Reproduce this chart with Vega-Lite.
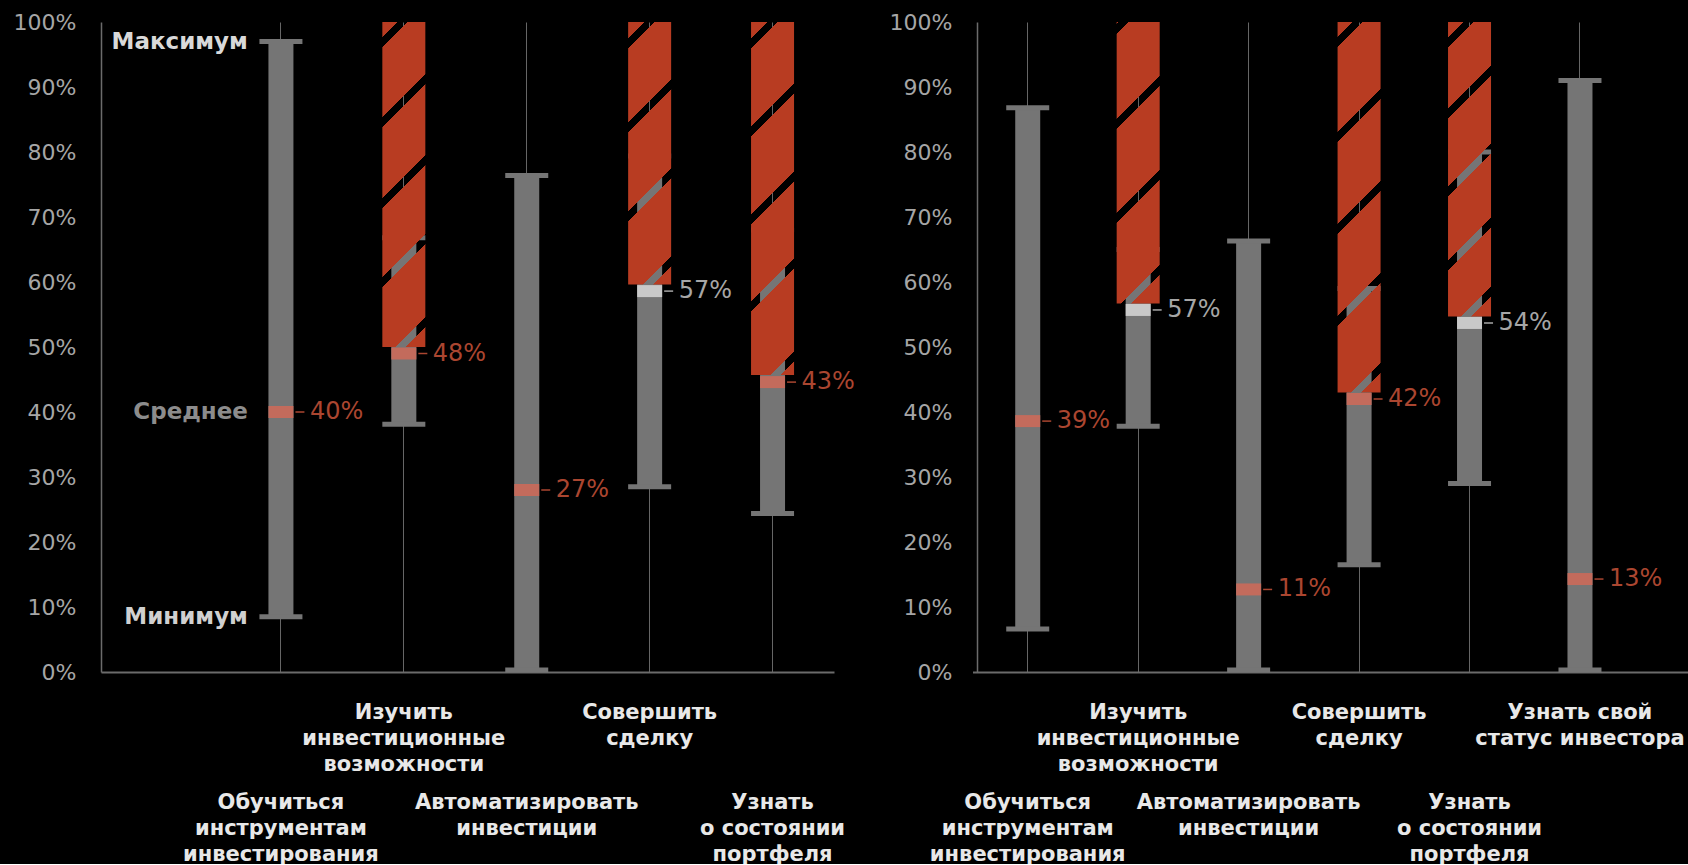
{
  "$schema": "https://vega.github.io/schema/vega-lite/v6.json",
  "background": "#000000",
  "padding": {"left": 13, "top": 11, "right": 0, "bottom": 0},
  "bounds": "flush",
  "spacing": 143,
  "config": {
    "view": {"stroke": null},
    "font": "DejaVu Sans",
    "axisY": {"grid": false, "ticks": false, "tickSize": 0, "domainColor": "#6b6b6b", "domainWidth": 1.5, "labelColor": "#a6a6a6", "labelFontSize": 22, "labelPadding": 25, "title": null, "labelFontWeight": "normal"},
    "axisX": {"grid": true, "gridColor": "#666666", "gridWidth": 1, "ticks": false, "tickSize": 0, "domainColor": "#6b6b6b", "domainWidth": 2, "labelAngle": 0, "labelColor": "#e8e8e8", "labelFontSize": 21, "labelFontWeight": "bold", "labelLineHeight": 26, "labelBaseline": "top", "labelAlign": "center", "labelOverlap": false, "labelLimit": 0, "labelBound": false, "title": null, "bandPosition": 0.5}
  },
  "datasets": {
    "left": [
      {"cat": "Обучиться|инструментам|инвестирования", "min": 0.085, "max": 0.97, "mean": 0.40, "label": 0.40, "red": null, "highlight": true},
      {"cat": "Изучить|инвестиционные|возможности", "min": 0.381, "max": 0.668, "mean": 0.49, "label": 0.48, "red": 0.50, "highlight": true},
      {"cat": "Автоматизировать|инвестиции", "min": 0.003, "max": 0.764, "mean": 0.28, "label": 0.27, "red": null, "highlight": true},
      {"cat": "Совершить|сделку", "min": 0.285, "max": 0.794, "mean": 0.586, "label": 0.57, "red": 0.596, "highlight": false},
      {"cat": "Узнать|о состоянии|портфеля", "min": 0.244, "max": 0.68, "mean": 0.446, "label": 0.43, "red": 0.457, "highlight": true}
    ],
    "right": [
      {"cat": "Обучиться|инструментам|инвестирования", "min": 0.066, "max": 0.868, "mean": 0.386, "label": 0.39, "red": null, "highlight": true},
      {"cat": "Изучить|инвестиционные|возможности", "min": 0.378, "max": 0.65, "mean": 0.557, "label": 0.57, "red": 0.567, "highlight": false},
      {"cat": "Автоматизировать|инвестиции", "min": 0.003, "max": 0.663, "mean": 0.127, "label": 0.11, "red": null, "highlight": true},
      {"cat": "Совершить|сделку", "min": 0.165, "max": 0.59, "mean": 0.42, "label": 0.42, "red": 0.43, "highlight": true},
      {"cat": "Узнать|о состоянии|портфеля", "min": 0.29, "max": 0.80, "mean": 0.537, "label": 0.54, "red": 0.547, "highlight": false},
      {"cat": "Узнать свой|статус инвестора", "min": 0.003, "max": 0.91, "mean": 0.143, "label": 0.13, "red": null, "highlight": true}
    ]
  },
  "hconcat": [
    {
      "width": 733,
      "height": 650,
      "data": {"name": "left"},
      "encoding": {
        "x": {
          "field": "cat", "type": "nominal", "sort": null,
          "scale": {"paddingInner": 0, "paddingOuter": 0.482, "align": 1},
          "axis": {
            "labelExpr": "split(datum.label, '|')",
            "labelPadding": {"condition": {"test": "indexof(['Изучить|инвестиционные|возможности', 'Совершить|сделку', 'Узнать свой|статус инвестора'], datum.value) >= 0", "value": 29}, "value": 119}
          }
        }
      },
      "layer": [
        {
          "mark": {"type": "bar", "size": 25, "color": "#757575"},
          "encoding": {
            "y": {"field": "min", "type": "quantitative", "scale": {"domain": [0, 1], "nice": false}, "axis": {"values": [0, 0.1, 0.2, 0.3, 0.4, 0.5, 0.6, 0.7, 0.8, 0.9, 1], "format": ".0%", "title": null}},
            "y2": {"field": "max"}
          }
        },
        {
          "mark": {"type": "tick", "size": 43, "thickness": 5, "color": "#757575", "opacity": 1},
          "encoding": {"y": {"field": "min", "type": "quantitative", "axis": {"title": null}}}
        },
        {
          "mark": {"type": "tick", "size": 43, "thickness": 5, "color": "#757575", "opacity": 1},
          "encoding": {"y": {"field": "max", "type": "quantitative", "axis": {"title": null}}}
        },
        {
          "transform": [{"filter": "isValid(datum.red)"}],
          "mark": {"type": "bar", "size": 43},
          "encoding": {
            "y": {"field": "red", "type": "quantitative", "axis": {"title": null}},
            "y2": {"datum": 1},
            "fill": {
              "condition": [
                {"test": "datum.cat === 'Изучить|инвестиционные|возможности'", "value": {"gradient": "linear", "x1": 0, "y1": 0, "x2": 0.1472, "y2": 1.1128, "stops": [
                  {"offset": 0, "color": "#b83c22"}, {"offset": 0.0408, "color": "#b83c22"}, {"offset": 0.0408, "color": "rgba(0,0,0,0)"}, {"offset": 0.0679, "color": "rgba(0,0,0,0)"}, {"offset": 0.0679, "color": "#b83c22"},
                  {"offset": 0.2595, "color": "#b83c22"}, {"offset": 0.2595, "color": "rgba(0,0,0,0)"}, {"offset": 0.2867, "color": "rgba(0,0,0,0)"}, {"offset": 0.2867, "color": "#b83c22"},
                  {"offset": 0.4783, "color": "#b83c22"}, {"offset": 0.4783, "color": "rgba(0,0,0,0)"}, {"offset": 0.5054, "color": "rgba(0,0,0,0)"}, {"offset": 0.5054, "color": "#b83c22"},
                  {"offset": 0.6929, "color": "#b83c22"}, {"offset": 0.6929, "color": "rgba(0,0,0,0)"}, {"offset": 0.7201, "color": "rgba(0,0,0,0)"}, {"offset": 0.7201, "color": "#b83c22"},
                  {"offset": 0.9185, "color": "#b83c22"}, {"offset": 0.9185, "color": "rgba(0,0,0,0)"}, {"offset": 0.9457, "color": "rgba(0,0,0,0)"}, {"offset": 0.9457, "color": "#b83c22"}, {"offset": 1, "color": "#b83c22"}]}},
                {"test": "datum.cat === 'Совершить|сделку'", "value": {"gradient": "linear", "x1": 0, "y1": 0, "x2": 0.1856, "y2": 1.1334, "stops": [
                  {"offset": 0, "color": "#b83c22"}, {"offset": 0.0524, "color": "#b83c22"}, {"offset": 0.0524, "color": "rgba(0,0,0,0)"}, {"offset": 0.0851, "color": "rgba(0,0,0,0)"}, {"offset": 0.0851, "color": "#b83c22"},
                  {"offset": 0.3272, "color": "#b83c22"}, {"offset": 0.3272, "color": "rgba(0,0,0,0)"}, {"offset": 0.3599, "color": "rgba(0,0,0,0)"}, {"offset": 0.3599, "color": "#b83c22"},
                  {"offset": 0.6185, "color": "#b83c22"}, {"offset": 0.6185, "color": "rgba(0,0,0,0)"}, {"offset": 0.6512, "color": "rgba(0,0,0,0)"}, {"offset": 0.6512, "color": "#b83c22"},
                  {"offset": 0.9064, "color": "#b83c22"}, {"offset": 0.9064, "color": "rgba(0,0,0,0)"}, {"offset": 0.9391, "color": "rgba(0,0,0,0)"}, {"offset": 0.9391, "color": "#b83c22"}, {"offset": 1, "color": "#b83c22"}]}},
                {"test": "datum.cat === 'Узнать|о состоянии|портфеля'", "value": {"gradient": "linear", "x1": 0, "y1": 0, "x2": 0.1347, "y2": 1.1054, "stops": [
                  {"offset": 0, "color": "#b83c22"}, {"offset": 0.0404, "color": "#b83c22"}, {"offset": 0.0404, "color": "rgba(0,0,0,0)"}, {"offset": 0.0657, "color": "rgba(0,0,0,0)"}, {"offset": 0.0657, "color": "#b83c22"},
                  {"offset": 0.2627, "color": "#b83c22"}, {"offset": 0.2627, "color": "rgba(0,0,0,0)"}, {"offset": 0.2879, "color": "rgba(0,0,0,0)"}, {"offset": 0.2879, "color": "#b83c22"},
                  {"offset": 0.4849, "color": "#b83c22"}, {"offset": 0.4849, "color": "rgba(0,0,0,0)"}, {"offset": 0.5102, "color": "rgba(0,0,0,0)"}, {"offset": 0.5102, "color": "#b83c22"},
                  {"offset": 0.7046, "color": "#b83c22"}, {"offset": 0.7046, "color": "rgba(0,0,0,0)"}, {"offset": 0.7299, "color": "rgba(0,0,0,0)"}, {"offset": 0.7299, "color": "#b83c22"},
                  {"offset": 0.9395, "color": "#b83c22"}, {"offset": 0.9395, "color": "rgba(0,0,0,0)"}, {"offset": 0.9648, "color": "rgba(0,0,0,0)"}, {"offset": 0.9648, "color": "#b83c22"}, {"offset": 1, "color": "#b83c22"}]}}
              ],
              "value": "#b83c22"
            }
          }
        },
        {
          "mark": {"type": "tick", "size": 25, "thickness": 12, "opacity": 1},
          "encoding": {
            "y": {"field": "mean", "type": "quantitative", "axis": {"title": null}},
            "color": {"condition": {"test": "datum.highlight", "value": "#c36b5c"}, "value": "#c9c9c9"}
          }
        },
        {
          "mark": {"type": "tick", "size": 9, "thickness": 1.5, "xOffset": 19, "opacity": 1},
          "encoding": {
            "y": {"field": "mean", "type": "quantitative", "axis": {"title": null}},
            "color": {"condition": {"test": "datum.highlight", "value": "#ab4630"}, "value": "#a6a6a6"}
          }
        },
        {
          "mark": {"type": "text", "align": "left", "baseline": "middle", "dx": 29, "fontSize": 24},
          "encoding": {
            "y": {"field": "mean", "type": "quantitative", "axis": {"title": null}},
            "text": {"field": "label", "type": "quantitative", "format": ".0%"},
            "color": {"condition": {"test": "datum.highlight", "value": "#ab4630"}, "value": "#a6a6a6"}
          }
        },
        {
          "transform": [{"filter": "datum.cat === 'Обучиться|инструментам|инвестирования'"}],
          "mark": {"type": "text", "align": "right", "baseline": "middle", "dx": -33, "fontSize": 23, "fontWeight": "bold", "color": "#d9d9d9"},
          "encoding": {"y": {"field": "max", "type": "quantitative", "axis": {"title": null}}, "text": {"value": "Максимум"}}
        },
        {
          "transform": [{"filter": "datum.cat === 'Обучиться|инструментам|инвестирования'"}],
          "mark": {"type": "text", "align": "right", "baseline": "middle", "dx": -33, "fontSize": 23, "fontWeight": "bold", "color": "#8c8c8c"},
          "encoding": {"y": {"field": "mean", "type": "quantitative", "axis": {"title": null}}, "text": {"value": "Среднее"}}
        },
        {
          "transform": [{"filter": "datum.cat === 'Обучиться|инструментам|инвестирования'"}],
          "mark": {"type": "text", "align": "right", "baseline": "middle", "dx": -33, "fontSize": 23, "fontWeight": "bold", "color": "#d0d0d0"},
          "encoding": {"y": {"field": "min", "type": "quantitative", "axis": {"title": null}}, "text": {"value": "Минимум"}}
        }
      ]
    },
    {
      "width": 711,
      "height": 650,
      "data": {"name": "right"},
      "encoding": {
        "x": {
          "field": "cat", "type": "nominal", "sort": null,
          "scale": {"range": [-4.5, 711], "paddingInner": 0, "paddingOuter": 0.239, "align": 0},
          "axis": {
            "labelExpr": "split(datum.label, '|')",
            "labelPadding": {"condition": {"test": "indexof(['Изучить|инвестиционные|возможности', 'Совершить|сделку', 'Узнать свой|статус инвестора'], datum.value) >= 0", "value": 29}, "value": 119}
          }
        }
      },
      "layer": [
        {
          "mark": {"type": "bar", "size": 25, "color": "#757575"},
          "encoding": {
            "y": {"field": "min", "type": "quantitative", "scale": {"domain": [0, 1], "nice": false}, "axis": {"values": [0, 0.1, 0.2, 0.3, 0.4, 0.5, 0.6, 0.7, 0.8, 0.9, 1], "format": ".0%", "title": null}},
            "y2": {"field": "max"}
          }
        },
        {
          "mark": {"type": "tick", "size": 43, "thickness": 5, "color": "#757575", "opacity": 1},
          "encoding": {"y": {"field": "min", "type": "quantitative", "axis": {"title": null}}}
        },
        {
          "mark": {"type": "tick", "size": 43, "thickness": 5, "color": "#757575", "opacity": 1},
          "encoding": {"y": {"field": "max", "type": "quantitative", "axis": {"title": null}}}
        },
        {
          "transform": [{"filter": "isValid(datum.red)"}],
          "mark": {"type": "bar", "size": 43},
          "encoding": {
            "y": {"field": "red", "type": "quantitative", "axis": {"title": null}},
            "y2": {"datum": 1},
            "fill": {
              "condition": [
                {"test": "datum.cat === 'Изучить|инвестиционные|возможности'", "value": {"gradient": "linear", "x1": 0, "y1": 0, "x2": 0.1721, "y2": 1.1265, "stops": [
                  {"offset": 0, "color": "#b83c22"}, {"offset": 0.0062, "color": "#b83c22"}, {"offset": 0.0062, "color": "rgba(0,0,0,0)"}, {"offset": 0.037, "color": "rgba(0,0,0,0)"}, {"offset": 0.037, "color": "#b83c22"},
                  {"offset": 0.299, "color": "#b83c22"}, {"offset": 0.299, "color": "rgba(0,0,0,0)"}, {"offset": 0.3298, "color": "rgba(0,0,0,0)"}, {"offset": 0.3298, "color": "#b83c22"},
                  {"offset": 0.5887, "color": "#b83c22"}, {"offset": 0.5887, "color": "rgba(0,0,0,0)"}, {"offset": 0.6195, "color": "rgba(0,0,0,0)"}, {"offset": 0.6195, "color": "#b83c22"},
                  {"offset": 0.8815, "color": "#b83c22"}, {"offset": 0.8815, "color": "rgba(0,0,0,0)"}, {"offset": 0.9123, "color": "rgba(0,0,0,0)"}, {"offset": 0.9123, "color": "#b83c22"}, {"offset": 1, "color": "#b83c22"}]}},
                {"test": "datum.cat === 'Совершить|сделку'", "value": {"gradient": "linear", "x1": 0, "y1": 0, "x2": 0.1278, "y2": 1.1012, "stops": [
                  {"offset": 0, "color": "#b83c22"}, {"offset": 0.0363, "color": "#b83c22"}, {"offset": 0.0363, "color": "rgba(0,0,0,0)"}, {"offset": 0.0605, "color": "rgba(0,0,0,0)"}, {"offset": 0.0605, "color": "#b83c22"},
                  {"offset": 0.266, "color": "#b83c22"}, {"offset": 0.266, "color": "rgba(0,0,0,0)"}, {"offset": 0.2902, "color": "rgba(0,0,0,0)"}, {"offset": 0.2902, "color": "#b83c22"},
                  {"offset": 0.4885, "color": "#b83c22"}, {"offset": 0.4885, "color": "rgba(0,0,0,0)"}, {"offset": 0.5127, "color": "rgba(0,0,0,0)"}, {"offset": 0.5127, "color": "#b83c22"},
                  {"offset": 0.711, "color": "#b83c22"}, {"offset": 0.711, "color": "rgba(0,0,0,0)"}, {"offset": 0.7352, "color": "rgba(0,0,0,0)"}, {"offset": 0.7352, "color": "#b83c22"},
                  {"offset": 0.9287, "color": "#b83c22"}, {"offset": 0.9287, "color": "rgba(0,0,0,0)"}, {"offset": 0.9528, "color": "rgba(0,0,0,0)"}, {"offset": 0.9528, "color": "#b83c22"}, {"offset": 1, "color": "#b83c22"}]}},
                {"test": "datum.cat === 'Узнать|о состоянии|портфеля'", "value": {"gradient": "linear", "x1": 0, "y1": 0, "x2": 0.1638, "y2": 1.1221, "stops": [
                  {"offset": 0, "color": "#b83c22"}, {"offset": 0.0445, "color": "#b83c22"}, {"offset": 0.0445, "color": "rgba(0,0,0,0)"}, {"offset": 0.0741, "color": "rgba(0,0,0,0)"}, {"offset": 0.0741, "color": "#b83c22"},
                  {"offset": 0.2549, "color": "#b83c22"}, {"offset": 0.2549, "color": "rgba(0,0,0,0)"}, {"offset": 0.2845, "color": "rgba(0,0,0,0)"}, {"offset": 0.2845, "color": "#b83c22"},
                  {"offset": 0.4875, "color": "#b83c22"}, {"offset": 0.4875, "color": "rgba(0,0,0,0)"}, {"offset": 0.5171, "color": "rgba(0,0,0,0)"}, {"offset": 0.5171, "color": "#b83c22"},
                  {"offset": 0.7053, "color": "#b83c22"}, {"offset": 0.7053, "color": "rgba(0,0,0,0)"}, {"offset": 0.7349, "color": "rgba(0,0,0,0)"}, {"offset": 0.7349, "color": "#b83c22"},
                  {"offset": 0.9098, "color": "#b83c22"}, {"offset": 0.9098, "color": "rgba(0,0,0,0)"}, {"offset": 0.9394, "color": "rgba(0,0,0,0)"}, {"offset": 0.9394, "color": "#b83c22"}, {"offset": 1, "color": "#b83c22"}]}}
              ],
              "value": "#b83c22"
            }
          }
        },
        {
          "mark": {"type": "tick", "size": 25, "thickness": 12, "opacity": 1},
          "encoding": {
            "y": {"field": "mean", "type": "quantitative", "axis": {"title": null}},
            "color": {"condition": {"test": "datum.highlight", "value": "#c36b5c"}, "value": "#c9c9c9"}
          }
        },
        {
          "mark": {"type": "tick", "size": 9, "thickness": 1.5, "xOffset": 19, "opacity": 1},
          "encoding": {
            "y": {"field": "mean", "type": "quantitative", "axis": {"title": null}},
            "color": {"condition": {"test": "datum.highlight", "value": "#ab4630"}, "value": "#a6a6a6"}
          }
        },
        {
          "mark": {"type": "text", "align": "left", "baseline": "middle", "dx": 29, "fontSize": 24},
          "encoding": {
            "y": {"field": "mean", "type": "quantitative", "axis": {"title": null}},
            "text": {"field": "label", "type": "quantitative", "format": ".0%"},
            "color": {"condition": {"test": "datum.highlight", "value": "#ab4630"}, "value": "#a6a6a6"}
          }
        }
      ]
    }
  ]
}
